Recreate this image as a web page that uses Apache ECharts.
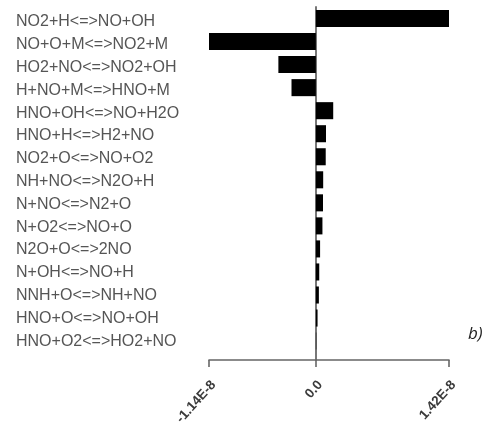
<!DOCTYPE html>
<html>
<head>
<meta charset="utf-8">
<script src="https://cdn.jsdelivr.net/npm/echarts@6/dist/echarts.min.js"></script>
<style>html,body{margin:0;padding:0;background:#fff}#c{width:491px;height:428px}</style>
</head>
<body>
<div id="c"></div>
<script>
var reactions = [
  'NO2+H<=>NO+OH','NO+O+M<=>NO2+M','HO2+NO<=>NO2+OH','H+NO+M<=>HNO+M',
  'HNO+OH<=>NO+H2O','HNO+H<=>H2+NO','NO2+O<=>NO+O2','NH+NO<=>N2O+H',
  'N+NO<=>N2+O','N+O2<=>NO+O','N2O+O<=>2NO','N+OH<=>NO+H',
  'NNH+O<=>NH+NO','HNO+O<=>NO+OH','HNO+O2<=>HO2+NO'
];
var sensitivity = [
  1.42e-8, -1.14e-8, -4.0e-9, -2.6e-9,
  1.85e-9, 1.08e-9, 1.05e-9, 0.78e-9,
  0.76e-9, 0.7e-9, 0.45e-9, 0.36e-9,
  0.32e-9, 0.18e-9, 0.04e-9
];
var tickValues = [-1.14e-8, 0, 1.42e-8];
var tickLabels = ['-1.14E-8', '0.0', '1.42E-8'];

function tickFmt(v) {
  var i = tickValues.findIndex(function (t) { return Math.abs(t - v) < 1e-12; });
  return i >= 0 ? tickLabels[i] : '';
}

var chart = echarts.init(document.getElementById('c'));
chart.setOption({
  animation: false,
  title: {
    text: 'b)', left: 463, top: 321,
    textStyle: { fontFamily: 'Open Sans', fontStyle: 'italic', fontWeight: 'normal', fontSize: 17, color: '#222' }
  },
  grid: [
    { left: 209, right: 42, top: 7, bottom: 75.4 },   // bars
    { left: 209, right: 42, top: 7, bottom: 68 },     // zero line + axis line
    { left: 213.5, right: 37.5, top: 10.5, bottom: 73.6 } // labels
  ],
  xAxis: [{
    type: 'value', gridIndex: 0, min: tickValues[0], max: tickValues[2], show: false
  }, {
    type: 'value', gridIndex: 1, min: tickValues[0], max: tickValues[2],
    splitLine: { show: false },
    axisLine: { show: true, lineStyle: { color: '#666', width: 1.6 } },
    axisTick: { show: true, length: 7, customValues: tickValues, lineStyle: { color: '#666', width: 1.6 } },
    axisLabel: { show: false }
  }, {
    type: 'value', gridIndex: 2, min: tickValues[0], max: tickValues[2],
    splitLine: { show: false }, axisLine: { show: false }, axisTick: { show: false },
    axisLabel: {
      customValues: tickValues, rotate: 48, margin: 30,
      fontFamily: 'Liberation Sans', fontWeight: 'bold', fontSize: 13.5, color: '#3a3a3a',
      formatter: tickFmt
    }
  }],
  yAxis: [{
    type: 'category', gridIndex: 0, data: reactions, inverse: true, show: false
  }, {
    type: 'value', gridIndex: 1, min: 0, max: 1,
    axisLine: { show: true, onZero: true, lineStyle: { color: '#777', width: 2 } },
    axisTick: { show: false }, axisLabel: { show: false }, splitLine: { show: false }
  }, {
    type: 'category', gridIndex: 2, data: reactions, inverse: true,
    axisLine: { show: false }, axisTick: { show: false },
    axisLabel: {
      align: 'left', margin: 197.5, fontFamily: 'Liberation Sans', fontSize: 16, color: '#555'
    }
  }],
  series: [{
    type: 'bar', xAxisIndex: 0, yAxisIndex: 0, data: sensitivity,
    barWidth: '74%', itemStyle: { color: '#000' }
  }]
});
</script>
</body>
</html>
